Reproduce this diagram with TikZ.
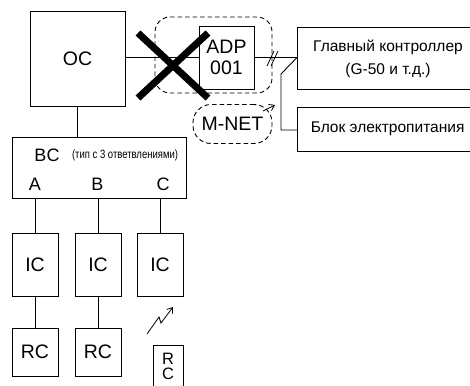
\documentclass[tikz,border=0pt]{standalone}
\usepackage{fontspec}
\setmainfont{Liberation Sans}
\usepackage{graphicx}
\usetikzlibrary{arrows.meta}
\begin{document}
\begin{tikzpicture}[x=1pt,y=-1pt,line width=0.9pt,
  box/.style={draw,rectangle,inner sep=0pt,align=center},
  bigfont/.style={font=\fontsize{19.5}{21}\selectfont},
  midfont/.style={font=\fontsize{18}{20}\selectfont},
  ctlfont/.style={font=\fontsize{15.5}{23}\selectfont},
  dashline/.style={dash pattern=on 4.5pt off 3pt},
  wire/.style={draw,line width=0.9pt},
  cross/.style={line width=7pt},
  tip/.style={-{Straight Barb[length=5pt,width=7pt]}}]
\useasboundingbox (0,0) rectangle (470,385);
% OC and ADP
\node[box,minimum width=95pt,minimum height=95pt,bigfont] (oc) at (77.5,58.5) {OC};
\node[box,minimum width=55pt,minimum height=63pt,bigfont] (adp) at (226.5,57.5) {ADP\\001};
\node[draw,dashline,rounded corners=15pt,minimum width=117pt,minimum height=76pt,inner sep=0pt] (adpgroup) at (213.5,55) {};
\draw[wire] (oc.east |- adp.west) -- (adp.west);
% cross
\coordinate (x1) at (138,33); \coordinate (x2) at (208,98);
\coordinate (x3) at (138,98); \coordinate (x4) at (208,33);
\draw[cross] (x1) -- (x2) (x3) -- (x4);
% main controller
\node[ctlfont,align=center] (mc) at (388,58.5) {Главный контроллер\\(G-50 и т.д.)};
\draw[wire] (470,27) -- (297,27) -- (297,89) -- (470,89);
\coordinate (mcW) at (297,57.5);
\draw[wire] (adp.east) -- (mcW);
\coordinate (s1a) at (267,66); \coordinate (s1b) at (274,51);
\coordinate (s2a) at (271,66); \coordinate (s2b) at (278,51);
\draw[line width=0.8pt] (s1a) -- (s1b) (s2a) -- (s2b);
% power supply
\node[ctlfont,anchor=west] (pw) at (307,129) {Блок электропитания};
\draw[wire] (470,107) -- (297,107) -- (297,151) -- (470,151);
\coordinate (pwW) at (297,130);
\coordinate (bend1) at (281,74);
\coordinate (bend2) at (281,130);
\draw[wire] (mcW) -- (bend1) -- (bend2) -- (pwW);
% M-NET
\node[draw,dashline,rounded corners=18pt,minimum width=79pt,minimum height=39pt,inner sep=0pt,font=\fontsize{19.5}{21}\selectfont] (mnet) at (232.5,124) {M-NET};
\coordinate (ma) at (263,111); \coordinate (mb) at (275,105);
\draw[tip,line width=0.8pt] (ma) -- (mb);
% BC
\node[box,minimum width=174pt,minimum height=61pt] (bc) at (99,167.5) {};
\node[midfont] (bclabel) at (47,155) {BC};
\node[inner sep=0pt] (bcnote) at (125,155) {\resizebox{106pt}{\height}{\fontsize{12}{14}\selectfont(тип с 3 ответвлениями)}};
\node[midfont] (pa) at (35,184) {A};
\node[midfont] (pb) at (97.5,184) {B};
\node[midfont] (pc) at (163,184) {C};
\draw[wire] (oc.south) -- (oc.south |- bc.north);
% IC
\node[box,minimum width=46pt,minimum height=63pt,bigfont] (ic1) at (35,264.5) {IC};
\node[box,minimum width=46pt,minimum height=63pt,bigfont] (ic2) at (98,264.5) {IC};
\node[box,minimum width=46pt,minimum height=63pt,bigfont] (ic3) at (160,264.5) {IC};
\draw[wire] (ic1.north) -- (ic1.north |- bc.south);
\draw[wire] (ic2.north) -- (ic2.north |- bc.south);
\draw[wire] (ic3.north) -- (ic3.north |- bc.south);
% RC
\node[box,minimum width=46pt,minimum height=48pt,bigfont] (rc1) at (35,352) {RC};
\node[box,minimum width=46pt,minimum height=48pt,bigfont] (rc2) at (98,352) {RC};
\draw[wire] (ic1.south) -- (rc1.north);
\draw[wire] (ic2.south) -- (rc2.north);
\draw[wire] (153,392) -- (153,345) -- (183,345) -- (183,392);
\node[font=\fontsize{16.5}{16}\selectfont,inner sep=0pt] (rc3r) at (168,358.5) {R};
\node[font=\fontsize{16.5}{16}\selectfont,inner sep=0pt] (rc3c) at (168,374) {C};
% wireless
\coordinate (w1) at (147,334); \coordinate (w2) at (159,317);
\coordinate (w3) at (161,323); \coordinate (w4) at (173,307);
\draw[tip,line width=0.8pt] (w1) -- (w2) -- (w3) -- (w4);
\end{tikzpicture}
\end{document}
